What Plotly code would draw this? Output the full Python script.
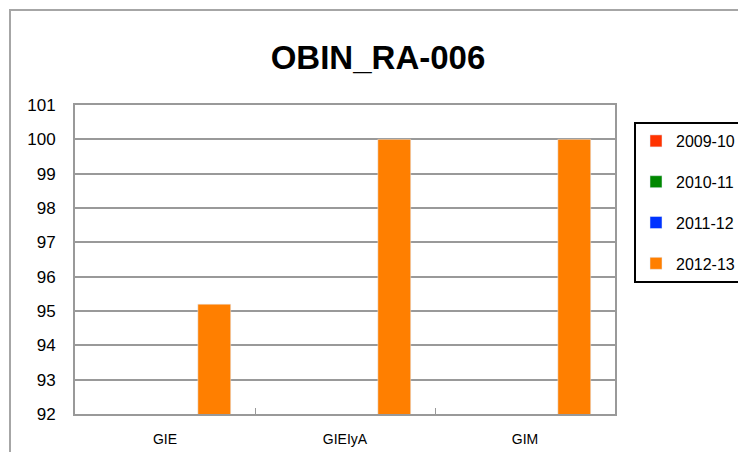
import plotly.graph_objects as go

categories = ["GIE", "GIEIyA", "GIM"]
series_names = ["2009-10", "2010-11", "2011-12", "2012-13"]
values_2009_10 = [0, 0, 0]
values_2010_11 = [0, 0, 0]
values_2011_12 = [0, 0, 0]
values_2012_13 = [95.2, 100, 100]
colors = ["#ff3300", "#008800", "#0033ff", "#ff7f00"]
y_ticks = list(range(92, 102))

all_values = [values_2009_10, values_2010_11, values_2011_12, values_2012_13]

fig = go.Figure()
for i, (name, vals, col) in enumerate(zip(series_names, all_values, colors)):
    fig.add_trace(go.Bar(x=categories, y=vals, name=name, marker_color=col,
                         legendgroup=name))

OFF = 8  # page body margin
L, R, T, B = 75 - OFF, 615 - OFF, 105 - OFF, 414 - OFF
W, H = 746, 452

def px_x(p):
    return (p - OFF - L) / (R - L)

def px_y(p):
    return (B - (p - OFF)) / (B - T)

FONT = "Liberation Sans, Arial"

fig.update_layout(
    width=W, height=H,
    margin=dict(l=L, r=W - R, t=T, b=H - B, autoexpand=False),
    plot_bgcolor="white", paper_bgcolor="white",
    barmode="group", bargap=0.27, bargroupgap=0,
    font=dict(family=FONT, color="black"),
    title=dict(text="<b>OBIN_RA-006</b>", x=(378 - OFF) / W, xref="container", xanchor="center",
               y=1 - (57 - OFF) / H, yref="container", yanchor="middle",
               font=dict(size=33, family=FONT)),
    legend=dict(x=px_x(634), y=px_y(122), xanchor="left", yanchor="top",
                bordercolor="black", borderwidth=2, bgcolor="white",
                font=dict(size=16, family=FONT),
                tracegroupgap=17, traceorder="grouped", itemwidth=30),
    showlegend=True,
    shapes=[dict(type="rect", xref="paper", yref="paper",
                 x0=px_x(10), y0=px_y(480), x1=px_x(800), y1=px_y(10),
                 line=dict(color="#a6a6a6", width=2), layer="below")],
)
fig.update_xaxes(showline=True, linecolor="#999999", linewidth=2, mirror=True,
                 ticks="inside", tickson="boundaries", ticklen=6, tickcolor="#999999",
                 tickfont=dict(size=14, family=FONT),
                 ticklabelstandoff=11, showgrid=False)
fig.update_yaxes(range=[92, 101], tickvals=y_ticks, showline=True, linecolor="#999999",
                 linewidth=2, mirror=True, showgrid=True, gridcolor="#999999", gridwidth=2,
                 tickfont=dict(size=17), ticklabelstandoff=14, zeroline=False)

fig.write_html("out.html")
